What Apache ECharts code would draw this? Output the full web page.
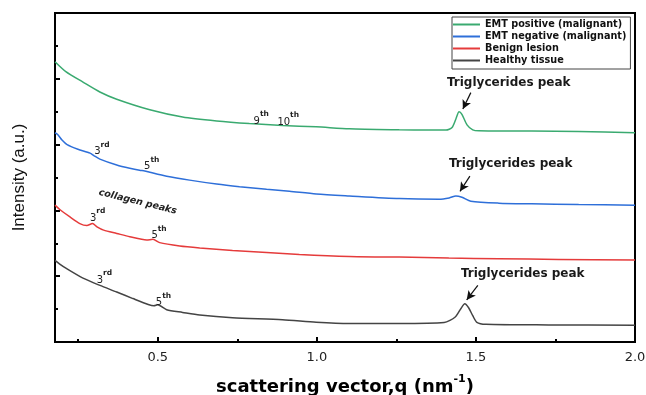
<!DOCTYPE html>
<html>
<head>
<meta charset="utf-8">
<script src="https://cdn.jsdelivr.net/npm/echarts@6/dist/echarts.min.js"></script>
<style>
  html, body { margin: 0; padding: 0; background: #fff; }
  #chart { width: 646px; height: 395px; }
</style>
</head>
<body>
<div id="chart"></div>
<script>
// series names, in legend order
const seriesNames = ['EMT positive (malignant)', 'EMT negative (malignant)', 'Benign lesion', 'Healthy tissue'];
const seriesColors = ['#3aaa70', '#2e6fd9', '#e53b3b', '#444444'];

// [q, intensity]
const emtPositive = [
  [0.177, 4.26], [0.211, 4.11], [0.265, 3.95], [0.318, 3.80], [0.371, 3.69], [0.475, 3.53],
  [0.578, 3.42], [0.685, 3.36], [0.788, 3.32], [0.892, 3.29], [0.998, 3.27], [1.102, 3.24],
  [1.259, 3.225], [1.352, 3.22], [1.406, 3.22], [1.425, 3.26], [1.437, 3.39], [1.447, 3.50],
  [1.456, 3.46], [1.472, 3.30], [1.490, 3.225], [1.509, 3.21], [1.675, 3.205], [1.823, 3.20],
  [2.0, 3.18]
];
const emtNegative = [
  [0.177, 3.18], [0.186, 3.15], [0.199, 3.07], [0.215, 3.00], [0.249, 2.93], [0.287, 2.87],
  [0.300, 2.83], [0.318, 2.78], [0.371, 2.69], [0.412, 2.64], [0.443, 2.61], [0.459, 2.60],
  [0.475, 2.58], [0.528, 2.52], [0.600, 2.46], [0.685, 2.40], [0.757, 2.36], [0.842, 2.32],
  [0.914, 2.29], [0.998, 2.25], [1.102, 2.22], [1.259, 2.18], [1.384, 2.17], [1.416, 2.19],
  [1.437, 2.22], [1.456, 2.20], [1.484, 2.14], [1.572, 2.11], [1.675, 2.10], [1.823, 2.09],
  [2.0, 2.08]
];
const benignLesion = [
  [0.177, 2.08], [0.193, 2.01], [0.224, 1.90], [0.255, 1.80], [0.277, 1.77], [0.295, 1.80],
  [0.309, 1.75], [0.330, 1.70], [0.371, 1.65], [0.412, 1.60], [0.465, 1.55], [0.485, 1.56],
  [0.506, 1.51], [0.569, 1.46], [0.632, 1.43], [0.735, 1.39], [0.842, 1.36], [0.945, 1.33],
  [1.102, 1.30], [1.259, 1.29], [1.415, 1.275], [1.572, 1.265], [1.760, 1.255], [2.0, 1.245]
];
const healthyTissue = [
  [0.177, 1.24], [0.193, 1.18], [0.215, 1.11], [0.265, 0.97], [0.318, 0.86], [0.371, 0.76],
  [0.422, 0.66], [0.470, 0.57], [0.488, 0.55], [0.500, 0.565], [0.528, 0.49], [0.578, 0.45],
  [0.632, 0.41], [0.735, 0.37], [0.892, 0.34], [0.998, 0.30], [1.102, 0.28], [1.259, 0.28],
  [1.400, 0.295], [1.435, 0.38], [1.453, 0.51], [1.465, 0.58], [1.477, 0.52], [1.490, 0.40],
  [1.503, 0.30], [1.531, 0.27], [1.729, 0.26], [2.0, 0.255]
];
const seriesData = [emtPositive, emtNegative, benignLesion, healthyTissue];

// axes
const xRange = [0.177, 2.0];
const xTicks = [0.5, 1.0, 1.5, 2.0];
const xMinorTicks = [0.25, 0.75, 1.25, 1.75];
const yRange = [0, 5];

// annotations: [series index, arrow from, arrow to]
const peakArrows = [
  [0, [1.484, 3.79], [1.459, 3.54]],
  [1, [1.481, 2.52], [1.450, 2.29]],
  [3, [1.506, 0.86], [1.471, 0.64]]
];
const peakTexts = [
  ['Triglycerides peak', [1.409, 3.94]],
  ['Triglycerides peak', [1.415, 2.70]],
  ['Triglycerides peak', [1.453, 1.04]]
];
// ordinal labels: [number, suffix, anchor]
const ordinals = [
  ['9', 'th', [0.801, 3.40]],
  ['10', 'th', [0.876, 3.39]],
  ['3', 'rd', [0.300, 2.94]],
  ['5', 'th', [0.457, 2.71]],
  ['3', 'rd', [0.287, 1.93]],
  ['5', 'th', [0.480, 1.66]],
  ['3', 'rd', [0.308, 0.98]],
  ['5', 'th', [0.494, 0.64]]
];
const collagenNote = ['collagen peaks', [0.437, 2.13]];

const chart = echarts.init(document.getElementById('chart'));

const series = seriesNames.map((name, i) => {
  const s = {
    name: name,
    type: 'line',
    data: seriesData[i],
    showSymbol: false,
    smooth: 0.25,
    lineStyle: { color: seriesColors[i], width: 1.5 },
    itemStyle: { color: seriesColors[i] },
    z: 3
  };
  const arrows = peakArrows.filter(a => a[0] === i);
  if (arrows.length) {
    s.markLine = {
      silent: true,
      symbol: ['none', 'arrow'],
      symbolSize: [7, 9],
      label: { show: false },
      lineStyle: { color: '#111', width: 1.2, type: 'solid' },
      emphasis: { disabled: true },
      data: arrows.map(a => [{ coord: a[1] }, { coord: a[2] }])
    };
  }
  return s;
});

chart.setOption({
  animation: false,
  backgroundColor: '#fff',
  grid: {
    left: 55, right: 11, top: 13, bottom: 53,
    outerBoundsMode: 'none',
    containLabel: false,
    show: true, borderColor: '#000', borderWidth: 2
  },
  legend: {
    data: seriesNames,
    orient: 'vertical',
    left: 452,
    top: 17,
    icon: 'rect',
    itemWidth: 27,
    itemHeight: 2,
    itemGap: 1,
    padding: [2, 4, 3, 1],
    borderColor: '#444',
    borderWidth: 1,
    textStyle: { fontFamily: 'DejaVu Sans', fontWeight: 'bold', fontSize: 9.7, color: '#111', lineHeight: 11 }
  },
  xAxis: [
    {
      type: 'value',
      min: xRange[0],
      max: xRange[1],
      position: 'bottom',
      splitLine: { show: false },
      axisLine: { onZero: false, lineStyle: { color: '#000', width: 2 } },
      axisTick: { inside: true, length: 5, customValues: xTicks, lineStyle: { color: '#000', width: 2 } },
      axisLabel: {
        customValues: xTicks,
        margin: 9,
        formatter: v => v.toFixed(1),
        fontFamily: 'DejaVu Sans', fontSize: 13, color: '#222'
      },
      name: '{a|scattering vector,q (nm}{s|-1}{a|)}',
      nameLocation: 'middle',
      nameGap: 32,
      nameTextStyle: {
        rich: {
          a: { fontFamily: 'DejaVu Sans', fontWeight: 'bold', fontSize: 18, color: '#000', lineHeight: 22, verticalAlign: 'bottom' },
          s: { fontFamily: 'DejaVu Sans', fontWeight: 'bold', fontSize: 11, color: '#000', lineHeight: 11, verticalAlign: 'top' }
        }
      }
    },
    {
      type: 'value',
      min: xRange[0],
      max: xRange[1],
      position: 'bottom',
      splitLine: { show: false },
      axisLine: { show: false },
      axisTick: { inside: true, length: 3, customValues: xMinorTicks, lineStyle: { color: '#000', width: 2 } },
      axisLabel: { show: false }
    }
  ],
  yAxis: {
    type: 'value',
    min: yRange[0],
    max: yRange[1],
    interval: 1,
    splitLine: { show: false },
    axisLine: { lineStyle: { color: '#000', width: 2 } },
    axisTick: { inside: true, length: 5, lineStyle: { color: '#000', width: 2 } },
    minorTick: { show: true, splitNumber: 2, length: 3, lineStyle: { color: '#000', width: 2 } },
    axisLabel: { show: false },
    name: 'Intensity (a.u.)',
    nameLocation: 'middle',
    nameGap: 27,
    nameTextStyle: { fontFamily: 'Liberation Sans', fontSize: 17, color: '#111' }
  },
  series: series
});

// text annotations placed in data coordinates
const toPx = p => chart.convertToPixel({ seriesIndex: 0 }, p);
const graphics = [];
peakTexts.forEach(t => {
  const p = toPx(t[1]);
  graphics.push({
    type: 'text', x: p[0], y: p[1], z: 10,
    style: { text: t[0], fill: '#1a1a1a', font: 'bold 12px "DejaVu Sans"', align: 'left', verticalAlign: 'middle' }
  });
});
ordinals.forEach(o => {
  const p = toPx(o[2]);
  graphics.push({
    type: 'text', x: p[0], y: p[1], z: 10,
    style: {
      text: '{n|' + o[0] + '}{s|' + o[1] + '}',
      align: 'left',
      verticalAlign: 'middle',
      rich: {
        n: { fill: '#222', fontFamily: 'DejaVu Sans', fontSize: 10, lineHeight: 16, verticalAlign: 'bottom' },
        s: { fill: '#222', fontFamily: 'DejaVu Sans', fontWeight: 'bold', fontSize: 7.5, lineHeight: 8, verticalAlign: 'top' }
      }
    }
  });
});
const cp = toPx(collagenNote[1]);
graphics.push({
  type: 'text', x: cp[0], y: cp[1], rotation: -0.24, z: 10,
  style: { text: collagenNote[0], fill: '#222', font: 'italic bold 9.5px "DejaVu Sans"', align: 'center', verticalAlign: 'middle' }
});
chart.setOption({ graphic: graphics });

window.addEventListener('resize', () => chart.resize());
</script>
</body>
</html>
